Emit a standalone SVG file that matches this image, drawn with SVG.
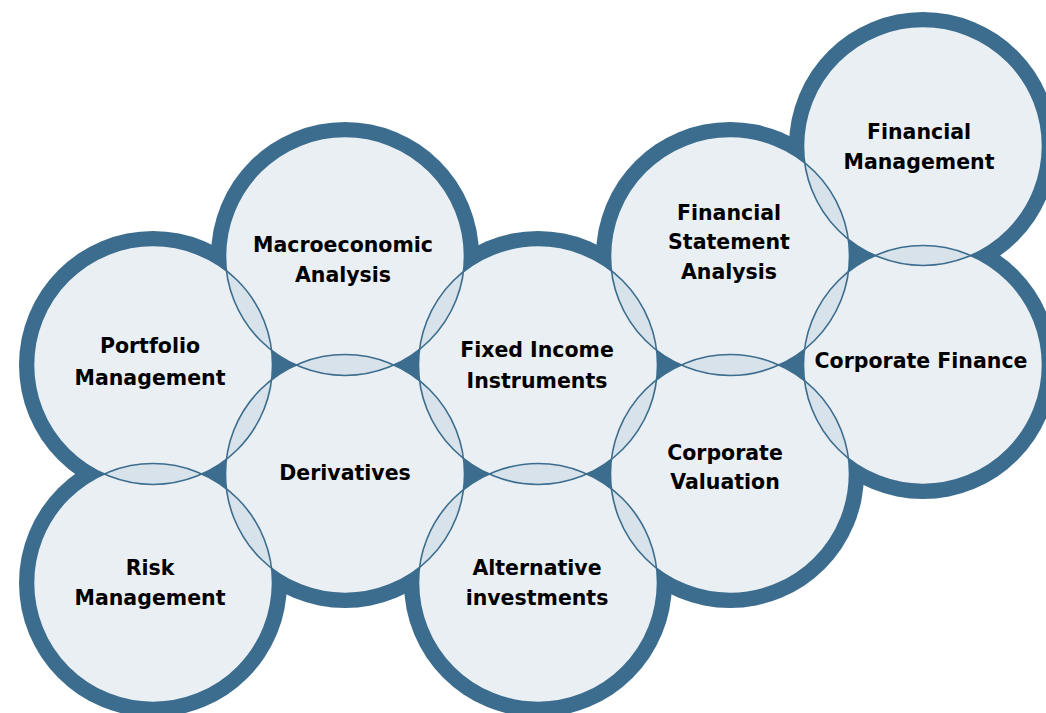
<svg xmlns="http://www.w3.org/2000/svg" width="1046" height="713" viewBox="0 0 1046 713">
<style>
.ring{fill:#3c6d8e}
.disk{fill:#eaeff4}
.lens{fill:#d7e2ea}
.edge{fill:none;stroke:#3c6d8e;stroke-width:1.6}
.t{font-family:"DejaVu Sans",sans-serif;font-weight:bold;font-size:20.5px;fill:#000;text-anchor:middle}
</style>
<defs>
<clipPath id="c-pm"><circle cx="153" cy="365" r="119.5"/></clipPath>
<clipPath id="c-rm"><circle cx="153" cy="583" r="119.5"/></clipPath>
<clipPath id="c-ma"><circle cx="345" cy="256" r="119.5"/></clipPath>
<clipPath id="c-de"><circle cx="345" cy="474" r="119.5"/></clipPath>
<clipPath id="c-fi"><circle cx="538" cy="365" r="119.5"/></clipPath>
<clipPath id="c-ai"><circle cx="538" cy="583" r="119.5"/></clipPath>
<clipPath id="c-fs"><circle cx="730" cy="256" r="119.5"/></clipPath>
<clipPath id="c-cv"><circle cx="730" cy="474" r="119.5"/></clipPath>
<clipPath id="c-fm"><circle cx="923" cy="146" r="119.5"/></clipPath>
<clipPath id="c-cf"><circle cx="923" cy="365" r="119.5"/></clipPath>
</defs>
<rect width="1046" height="713" fill="#ffffff"/>
<g id="rings">
<circle class="ring" cx="153" cy="365" r="134"/>
<circle class="ring" cx="153" cy="583" r="134"/>
<circle class="ring" cx="345" cy="256" r="134"/>
<circle class="ring" cx="345" cy="474" r="134"/>
<circle class="ring" cx="538" cy="365" r="134"/>
<circle class="ring" cx="538" cy="583" r="134"/>
<circle class="ring" cx="730" cy="256" r="134"/>
<circle class="ring" cx="730" cy="474" r="134"/>
<circle class="ring" cx="923" cy="146" r="134"/>
<circle class="ring" cx="923" cy="365" r="134"/>
</g>
<g id="node-portfolio"><circle class="disk" cx="153" cy="365" r="119.5"/><text class="t" x="150" y="353">Portfolio</text><text class="t" x="150" y="385">Management</text></g>
<g id="node-risk"><circle class="disk" cx="153" cy="583" r="119.5"/><text class="t" x="150" y="575">Risk</text><text class="t" x="150" y="605">Management</text></g>
<g id="node-macro"><circle class="disk" cx="345" cy="256" r="119.5"/><text class="t" x="343" y="252">Macroeconomic</text><text class="t" x="343" y="282">Analysis</text></g>
<g id="node-derivatives"><circle class="disk" cx="345" cy="474" r="119.5"/><text class="t" x="345" y="480">Derivatives</text></g>
<g id="node-fixed"><circle class="disk" cx="538" cy="365" r="119.5"/><text class="t" x="537" y="357">Fixed Income</text><text class="t" x="537" y="388">Instruments</text></g>
<g id="node-alternative"><circle class="disk" cx="538" cy="583" r="119.5"/><text class="t" x="537" y="575">Alternative</text><text class="t" x="537" y="605">investments</text></g>
<g id="node-fsa"><circle class="disk" cx="730" cy="256" r="119.5"/><text class="t" x="729" y="220">Financial</text><text class="t" x="729" y="249">Statement</text><text class="t" x="729" y="279">Analysis</text></g>
<g id="node-valuation"><circle class="disk" cx="730" cy="474" r="119.5"/><text class="t" x="725" y="460">Corporate</text><text class="t" x="725" y="489">Valuation</text></g>
<g id="node-fm"><circle class="disk" cx="923" cy="146" r="119.5"/><text class="t" x="919" y="139">Financial</text><text class="t" x="919" y="169">Management</text></g>
<g id="node-cf"><circle class="disk" cx="923" cy="365" r="119.5"/><text class="t" x="921" y="368">Corporate Finance</text></g>
<g id="connectors">
<circle class="lens" cx="153" cy="365" r="119.5" clip-path="url(#c-rm)"/>
<circle class="lens" cx="153" cy="365" r="119.5" clip-path="url(#c-ma)"/>
<circle class="lens" cx="153" cy="365" r="119.5" clip-path="url(#c-de)"/>
<circle class="lens" cx="153" cy="583" r="119.5" clip-path="url(#c-de)"/>
<circle class="lens" cx="345" cy="256" r="119.5" clip-path="url(#c-de)"/>
<circle class="lens" cx="345" cy="256" r="119.5" clip-path="url(#c-fi)"/>
<circle class="lens" cx="345" cy="474" r="119.5" clip-path="url(#c-fi)"/>
<circle class="lens" cx="345" cy="474" r="119.5" clip-path="url(#c-ai)"/>
<circle class="lens" cx="538" cy="365" r="119.5" clip-path="url(#c-ai)"/>
<circle class="lens" cx="538" cy="365" r="119.5" clip-path="url(#c-fs)"/>
<circle class="lens" cx="538" cy="365" r="119.5" clip-path="url(#c-cv)"/>
<circle class="lens" cx="538" cy="583" r="119.5" clip-path="url(#c-cv)"/>
<circle class="lens" cx="730" cy="256" r="119.5" clip-path="url(#c-cv)"/>
<circle class="lens" cx="730" cy="256" r="119.5" clip-path="url(#c-fm)"/>
<circle class="lens" cx="730" cy="256" r="119.5" clip-path="url(#c-cf)"/>
<circle class="lens" cx="730" cy="474" r="119.5" clip-path="url(#c-cf)"/>
<circle class="lens" cx="923" cy="146" r="119.5" clip-path="url(#c-cf)"/>
<circle class="edge" cx="153" cy="365" r="119.5"/>
<circle class="edge" cx="153" cy="583" r="119.5"/>
<circle class="edge" cx="345" cy="256" r="119.5"/>
<circle class="edge" cx="345" cy="474" r="119.5"/>
<circle class="edge" cx="538" cy="365" r="119.5"/>
<circle class="edge" cx="538" cy="583" r="119.5"/>
<circle class="edge" cx="730" cy="256" r="119.5"/>
<circle class="edge" cx="730" cy="474" r="119.5"/>
<circle class="edge" cx="923" cy="146" r="119.5"/>
<circle class="edge" cx="923" cy="365" r="119.5"/>
</g>
</svg>
